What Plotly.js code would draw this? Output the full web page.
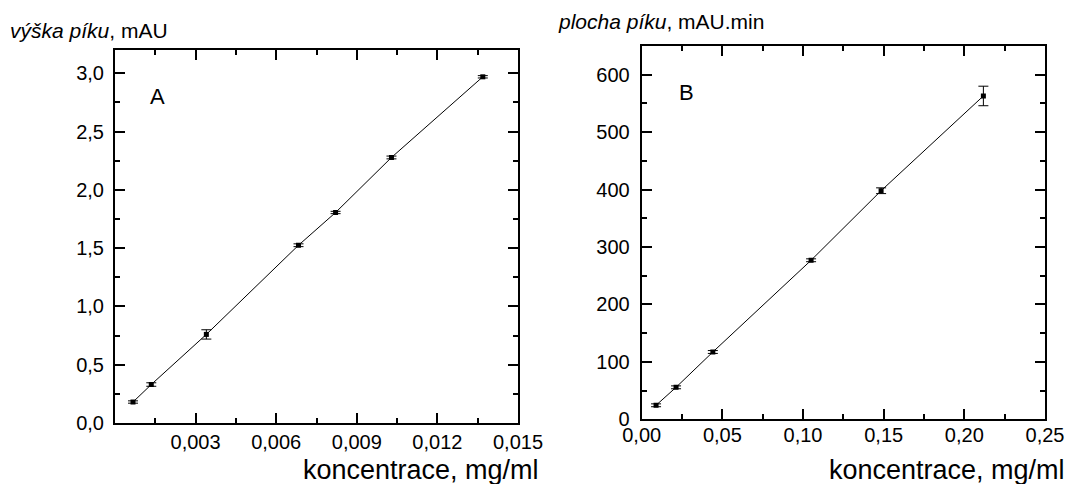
<!DOCTYPE html>
<html>
<head>
<meta charset="utf-8">
<script src="https://cdn.plot.ly/plotly-3.0.1.min.js"></script>
<style>html,body{margin:0;padding:0;background:#fff;}#chart{width:1068px;height:484px;}</style>
</head>
<body>
<div id="chart"></div>
<script>
// Panel A: peak height vs concentration
const concA = [0.00067, 0.00135, 0.0034, 0.00683, 0.00821, 0.01029, 0.01369];
const heightA = [0.18, 0.33, 0.76, 1.525, 1.806, 2.278, 2.97];
const errA = [0.01, 0.015, 0.04, 0.012, 0.01, 0.012, 0.01];
const xTicksA = [0.003, 0.006, 0.009, 0.012, 0.015];

// Panel B: peak area vs concentration
const concB = [0.0089, 0.0213, 0.0441, 0.105, 0.1484, 0.2118];
const areaB = [24.4, 55.7, 117.2, 276.9, 398, 563];
const errB = [2.5, 2.5, 2.5, 2.5, 5, 17];

const FONT = 'Liberation Sans, Arial, sans-serif';
const W = 1068, H = 484;
const px = v => v / W;
const py = v => 1 - v / H;

const traceA = {
  x: concA, y: heightA, xaxis: 'x', yaxis: 'y',
  mode: 'lines+markers', type: 'scatter',
  line: {color: '#000', width: 1},
  marker: {color: '#000', size: 5, symbol: 'square'},
  error_y: {type: 'data', array: errA, visible: true, color: '#000', thickness: 1, width: 5},
  showlegend: false, hoverinfo: 'skip'
};
const traceB = {
  x: concB, y: areaB, xaxis: 'x2', yaxis: 'y2',
  mode: 'lines+markers', type: 'scatter',
  line: {color: '#000', width: 1},
  marker: {color: '#000', size: 5, symbol: 'square'},
  error_y: {type: 'data', array: errB, visible: true, color: '#000', thickness: 1, width: 5},
  showlegend: false, hoverinfo: 'skip'
};

const axCommon = {
  showline: true, linecolor: '#000', linewidth: 2, mirror: 'allticks',
  ticks: 'inside', ticklen: 10, tickwidth: 2, tickcolor: '#000',
  showgrid: false, zeroline: false,
  tickfont: {family: FONT, size: 20, color: '#000'},
  fixedrange: true
};

const layout = {
  width: W, height: H,
  margin: {l: 0, r: 0, t: 0, b: 0},
  paper_bgcolor: '#fff', plot_bgcolor: '#fff',
  separators: ', ',
  font: {family: FONT, color: '#000'},
  xaxis: Object.assign({}, axCommon, {
    domain: [px(115), px(518)], range: [0, 0.015], anchor: 'y',
    tickvals: xTicksA, tickformat: '.3f', ticklabelstandoff: 0,
    minor: {dtick: 0.0015, tick0: 0, ticks: 'inside', ticklen: 5, tickwidth: 2, tickcolor: '#000'}
  }),
  yaxis: Object.assign({}, axCommon, {
    domain: [1 - 423 / H, 1 - 50 / H], range: [0, 3.2], anchor: 'x',
    dtick: 0.5, tick0: 0, tickformat: '.1f', ticklabelstandoff: 5,
    minor: {dtick: 0.25, tick0: 0, ticks: 'inside', ticklen: 5, tickwidth: 2, tickcolor: '#000'}
  }),
  xaxis2: Object.assign({}, axCommon, {
    domain: [px(641.7), px(1045)], range: [0, 0.25], anchor: 'y2',
    dtick: 0.05, tick0: 0, tickformat: '.2f', ticklabelstandoff: -3,
    minor: {dtick: 0.025, tick0: 0, ticks: 'inside', ticklen: 5, tickwidth: 2, tickcolor: '#000'}
  }),
  yaxis2: Object.assign({}, axCommon, {
    domain: [1 - 419.3 / H, 1 - 46 / H], range: [0, 650], anchor: 'x2',
    dtick: 100, tick0: 0, tickformat: 'd', ticklabelstandoff: 6,
    minor: {dtick: 50, tick0: 0, ticks: 'inside', ticklen: 5, tickwidth: 2, tickcolor: '#000'}
  }),
  annotations: [
    {xref: 'paper', yref: 'paper', x: px(8), y: py(31), xanchor: 'left', yanchor: 'middle',
     text: '<i>výška píku</i>, mAU', showarrow: false, font: {family: FONT, size: 21, color: '#000'}},
    {xref: 'paper', yref: 'paper', x: px(556), y: py(21), xanchor: 'left', yanchor: 'middle',
     text: '<i>plocha píku</i>, mAU.min', showarrow: false, font: {family: FONT, size: 21, color: '#000'}},
    {xref: 'paper', yref: 'paper', x: px(541), y: py(470), xanchor: 'right', yanchor: 'middle',
     text: 'koncentrace, mg/ml', showarrow: false, font: {family: FONT, size: 27, color: '#000'}},
    {xref: 'paper', yref: 'paper', x: px(1067), y: py(470), xanchor: 'right', yanchor: 'middle',
     text: 'koncentrace, mg/ml', showarrow: false, font: {family: FONT, size: 27, color: '#000'}},
    {xref: 'paper', yref: 'paper', x: px(157), y: py(97), xanchor: 'center', yanchor: 'middle',
     text: 'A', showarrow: false, font: {family: FONT, size: 22, color: '#000'}},
    {xref: 'paper', yref: 'paper', x: px(686), y: py(93), xanchor: 'center', yanchor: 'middle',
     text: 'B', showarrow: false, font: {family: FONT, size: 22, color: '#000'}}
  ]
};

Plotly.newPlot('chart', [traceA, traceB], layout, {staticPlot: true, displayModeBar: false});
</script>
</body>
</html>
